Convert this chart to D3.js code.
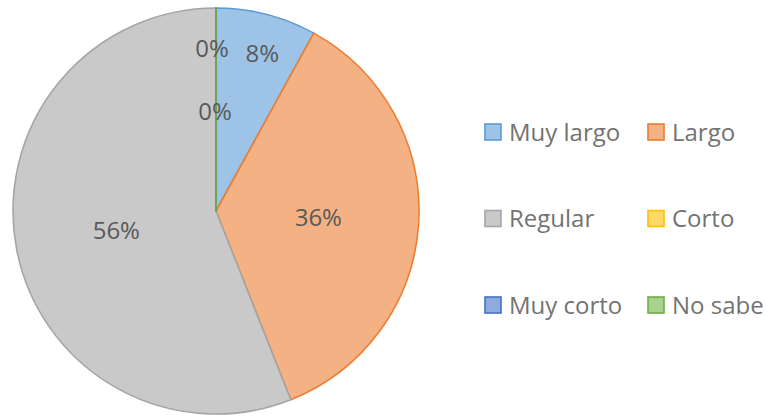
<!DOCTYPE html>
<html>
<head>
<meta charset="utf-8">
<script src="https://cdn.jsdelivr.net/npm/d3@7/dist/d3.min.js"></script>
<style>
  html, body { margin: 0; padding: 0; background: #ffffff; }
  svg { display: block; }
  text { font-family: "Open Sans", "Noto Sans", sans-serif; }
</style>
</head>
<body>
<svg id="chart" width="766" height="420"></svg>
<script>
// Answer categories and their share of responses (%)
const categories = ["Muy largo", "Largo", "Regular", "Corto", "Muy corto", "No sabe"];
const shares = [8, 36, 56, 0, 0, 0];
const valueLabels = ["8%", "36%", "56%", "0%", "0%", "0%"];

// Slice fills and outlines
const fills = ["#9dc3e6", "#f4b183", "#c9c9c9", "#ffd966", "#8faadc", "#a9d18e"];
const outlines = ["#5b9bd5", "#ed7d31", "#a5a5a5", "#ffc000", "#4472c4", "#70ad47"];

// Layout
const W = 766, H = 420;
const cx = 216, cy = 211, R = 203;
// distance of each value label from the centre, as a fraction of the radius (null = no label)
const labelDistance = [0.8, 0.5, 0.5, 0.8, 0.49, null];
// small horizontal nudges so the labels clear the slice edges
const labelNudge = [6, 1, 0, -4, -1, 0];
const legendCols = [485, 648];
const legendTop = 132, legendStep = 86.5, swatch = 16, textGap = 24;

const svg = d3.select("#chart");

const data = categories.map((c, i) => ({ name: c, value: shares[i], label: valueLabels[i], i }));

const pie = d3.pie().sort(null).value(d => d.value);
const arcs = pie(data);
const arc = d3.arc().innerRadius(0).outerRadius(R);

const g = svg.append("g").attr("transform", `translate(${cx},${cy})`);

g.selectAll("path.slice")
  .data(arcs)
  .join("path")
  .attr("class", "slice")
  .attr("d", arc)
  .attr("fill", d => fills[d.data.i])
  .attr("stroke", d => outlines[d.data.i])
  .attr("stroke-width", 1.6)
  .attr("stroke-linejoin", "round");

// Value labels
g.selectAll("text.val")
  .data(arcs.filter(d => labelDistance[d.data.i] != null))
  .join("text")
  .attr("class", "val")
  .attr("transform", d => {
    const r = R * labelDistance[d.data.i];
    const a = (d.startAngle + d.endAngle) / 2;
    return `translate(${r * Math.sin(a)},${-r * Math.cos(a)})`;
  })
  .attr("text-anchor", "middle")
  .attr("dx", d => labelNudge[d.data.i])
  .attr("dy", "0.36em")
  .attr("font-size", 24)
  .attr("fill", "#595959")
  .text(d => d.data.label);

// Legend, two columns
const legend = svg.append("g");
const items = legend.selectAll("g.item")
  .data(data)
  .join("g")
  .attr("class", "item")
  .attr("transform", d => `translate(${legendCols[d.i % 2]},${legendTop + Math.floor(d.i / 2) * legendStep})`);

items.append("rect")
  .attr("x", 0)
  .attr("y", -swatch / 2)
  .attr("width", swatch)
  .attr("height", swatch)
  .attr("fill", d => fills[d.i])
  .attr("stroke", d => outlines[d.i])
  .attr("stroke-width", 1.6);

items.append("text")
  .attr("x", textGap)
  .attr("dy", "0.36em")
  .attr("font-size", 24)
  .attr("fill", "#737373")
  .text(d => d.name);
</script>
</body>
</html>
